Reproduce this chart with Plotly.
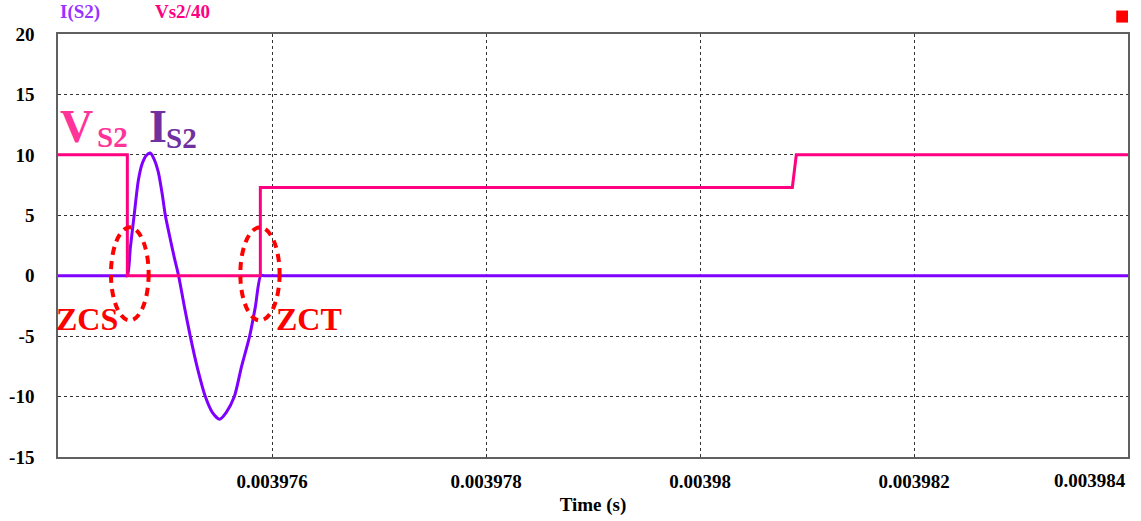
import plotly.graph_objects as go

# ---------------- data (time in microseconds, converted to seconds) ----------------
t_us_current = [3974.0, 3974.62, 3974.648, 3974.676, 3974.713, 3974.751, 3974.788, 3974.825,
                3974.863, 3974.900, 3974.937, 3974.975, 3975.003, 3975.050, 3975.087,
                3975.127, 3975.180, 3975.236, 3975.302, 3975.377, 3975.442, 3975.510,
                3975.573, 3975.648, 3975.713, 3975.791, 3975.844, 3975.895, 3975.93, 3984.0]
i_s2 = [0, 0, 0, 2.3, 5.1, 7.9, 9.3, 9.95, 10.15, 9.6, 8.6, 6.7, 5.0, 3.0, 1.5,
        0, -2.5, -5.0, -7.6, -10.0, -11.3, -11.87, -11.3, -10.0, -7.6, -5.0, -2.6, 0, 0, 0]

t_us_voltage = [3974.0, 3974.648, 3974.648, 3975.891, 3975.891, 3980.863, 3980.900, 3984.0]
vs2_over_40 = [10, 10, 0, 0, 7.3, 7.3, 10, 10]

x_tick_vals = [0.003976, 0.003978, 0.00398, 0.003982]
x_tick_text = ["0.003976", "0.003978", "0.00398", "0.003982"]
y_tick_vals = [-15, -10, -5, 0, 5, 10, 15, 20]
y_tick_text = ["-15", "-10", "-5", "0", "5", "10", "15", "20"]

series_names = ["I(S2)", "Vs2/40"]
# ------------------------------------------------------------------------------------

FONT = "Liberation Serif"
C_I = "#8000FF"
C_V = "#FF0080"

t_i = [v * 1e-6 for v in t_us_current]
t_v = [v * 1e-6 for v in t_us_voltage]

fig = go.Figure()
fig.add_trace(go.Scatter(x=t_i, y=i_s2, mode="lines", name=series_names[0],
                         line=dict(color=C_I, width=3, shape="spline", smoothing=0.7)))
fig.add_trace(go.Scatter(x=t_v, y=vs2_over_40, mode="lines", name=series_names[1],
                         line=dict(color=C_V, width=3)))

axis_common = dict(showline=True, linecolor="#606060", linewidth=1.5, mirror=True,
                   showgrid=True, gridcolor="#333333", gridwidth=1, griddash="dot",
                   zeroline=False,
                   tickfont=dict(family=FONT, size=19, color="black", weight="bold"))

fig.update_xaxes(range=[0.003974, 0.003984], tickmode="array",
                 tickvals=x_tick_vals, ticktext=x_tick_text,
                 ticks="outside", ticklen=6, tickcolor="rgba(0,0,0,0)",
                 title=dict(text="Time (s)", font=dict(family=FONT, size=19, color="black", weight="bold"),
                            standoff=7),
                 **axis_common)
fig.update_yaxes(range=[-15, 20], tickmode="array", tickvals=y_tick_vals, ticktext=y_tick_text,
                 ticks="outside", ticklen=18, tickcolor="rgba(0,0,0,0)",
                 **axis_common)

annotations = [
    # legend-like series labels at top
    dict(text=series_names[0], x=0.0, y=1.053, xanchor="left", yanchor="middle",
         font=dict(family=FONT, size=19, color="#9933FF", weight="bold")),
    dict(text=series_names[1], x=0.089, y=1.053, xanchor="left", yanchor="middle",
         font=dict(family=FONT, size=19, color=C_V, weight="bold")),
    # last x tick label (pushed inside the figure)
    dict(text="0.003984", x=1.0, y=-0.055, xanchor="right", yanchor="middle",
         font=dict(family=FONT, size=19, color="black", weight="bold")),
    # V_S2 label
    dict(text="V", x=0.0176, y=0.7814, xanchor="center", yanchor="middle",
         font=dict(family=FONT, size=46, color="#FF3399", weight="bold")),
    dict(text="S2", x=0.0507, y=0.7554, xanchor="center", yanchor="middle",
         font=dict(family=FONT, size=29, color="#FF3399", weight="bold")),
    # I_S2 label
    dict(text="I", x=0.0937, y=0.7814, xanchor="center", yanchor="middle",
         font=dict(family=FONT, size=46, color="#7030A0", weight="bold")),
    dict(text="S2", x=0.1157, y=0.7531, xanchor="center", yanchor="middle",
         font=dict(family=FONT, size=29, color="#7030A0", weight="bold")),
    # ZCS / ZCT
    dict(text="ZCS", x=0.0274, y=0.3266, xanchor="center", yanchor="middle",
         font=dict(family=FONT, size=32, color="#FF0000", weight="bold")),
    dict(text="ZCT", x=0.2349, y=0.3266, xanchor="center", yanchor="middle",
         font=dict(family=FONT, size=32, color="#FF0000", weight="bold")),
]
for a in annotations:
    a.update(xref="paper", yref="paper", showarrow=False)

shapes = [
    dict(type="circle", xref="x", yref="y", x0=3974.495e-6, x1=3974.847e-6, y0=-3.7, y1=4.0,
         line=dict(color="#FF0000", width=4, dash="8px,6px")),
    dict(type="circle", xref="x", yref="y", x0=3975.704e-6, x1=3976.071e-6, y0=-3.7, y1=4.0,
         line=dict(color="#FF0000", width=4, dash="8px,6px")),
    dict(type="rect", xref="paper", yref="paper", x0=0.989, x1=1.0, y0=1.027, y1=1.0555,
         fillcolor="#FF0000", line=dict(width=0)),
]

fig.update_layout(width=1141, height=521, showlegend=False,
                  margin=dict(l=58, r=13, t=34, b=64, autoexpand=False),
                  paper_bgcolor="white", plot_bgcolor="white",
                  annotations=annotations, shapes=shapes)

fig.write_html("out.html", config={"displayModeBar": False},
               post_script="document.body.style.margin='0px';document.body.style.overflow='hidden';")
